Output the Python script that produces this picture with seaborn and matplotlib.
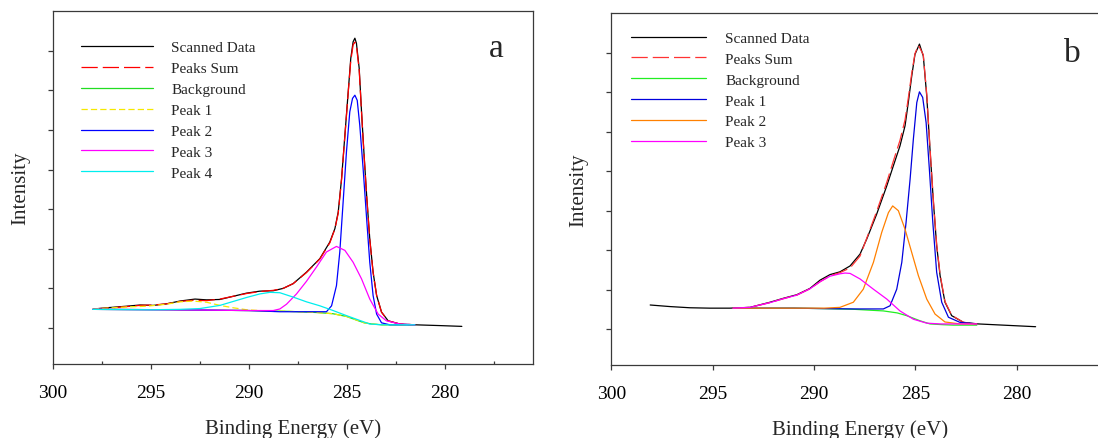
import matplotlib
matplotlib.use("Agg")
import matplotlib.pyplot as plt
from matplotlib.ticker import MultipleLocator, NullFormatter
import seaborn as sns
import pandas as pd

# ---------------- Panel a data (binding energy eV, intensity a.u.) ----------------
scan_a_x = [297.9, 297.25, 296.23, 295.55, 294.87, 294.19, 293.51, 292.74, 292.15, 291.47,
            290.79, 290.11, 289.43, 288.75, 288.24, 287.73, 287.05, 286.37, 285.86, 285.60,
            285.43, 285.26, 285.09, 284.92, 284.79, 284.67, 284.58, 284.50, 284.36, 284.24,
            284.12, 283.98, 283.82, 283.65, 283.47, 283.22, 282.88, 282.29, 281.52, 280.24, 279.12]
scan_a_y = [0.48, 0.51, 0.55, 0.58, 0.57, 0.61, 0.68, 0.73, 0.71, 0.72,
            0.80, 0.88, 0.93, 0.94, 1.00, 1.12, 1.41, 1.75, 2.17, 2.51,
            2.93, 3.77, 4.87, 5.97, 6.81, 7.23, 7.32, 7.19, 6.56, 5.46,
            4.45, 3.35, 2.25, 1.41, 0.82, 0.40, 0.18, 0.10, 0.08, 0.06, 0.04]

sum_a_x = [297.96, 297.25, 296.23, 295.55, 294.87, 294.19, 293.51, 292.83, 292.15, 291.47,
           290.79, 290.11, 289.43, 288.75, 288.24, 287.73, 287.05, 286.37, 285.86, 285.60,
           285.43, 285.26, 285.09, 284.92, 284.79, 284.67, 284.58, 284.50, 284.36, 284.24,
           284.12, 283.98, 283.82, 283.65, 283.47, 283.22, 282.88, 282.29, 281.52]
sum_a_y = [0.48, 0.50, 0.54, 0.57, 0.58, 0.61, 0.67, 0.70, 0.69, 0.73,
           0.80, 0.87, 0.92, 0.95, 1.00, 1.12, 1.40, 1.74, 2.15, 2.50,
           2.90, 3.75, 4.85, 5.95, 6.75, 7.15, 7.22, 7.12, 6.52, 5.45,
           4.43, 3.33, 2.24, 1.40, 0.82, 0.40, 0.18, 0.10, 0.08]

bg_a_x = [297.96, 294.0, 290.0, 288.0, 286.5, 285.7, 285.0, 284.5, 284.1, 283.7, 283.2, 281.52]
bg_a_y = [0.47, 0.46, 0.44, 0.42, 0.39, 0.36, 0.29, 0.20, 0.13, 0.10, 0.08, 0.08]

p1_a_x = [297.96, 297.6, 296.23, 295.21, 294.19, 293.51, 292.83, 292.15, 291.47, 290.79,
          290.11, 289.09, 288.0, 286.5, 285.7, 285.0, 284.5, 284.1, 283.7, 283.2, 281.52]
p1_a_y = [0.48, 0.49, 0.53, 0.55, 0.60, 0.66, 0.68, 0.65, 0.57, 0.51,
          0.46, 0.43, 0.42, 0.39, 0.36, 0.29, 0.20, 0.13, 0.10, 0.08, 0.08]

p2_a_x = [297.96, 294.0, 290.0, 288.41, 286.03, 285.77, 285.52, 285.35, 285.18, 285.01,
          284.84, 284.70, 284.58, 284.46, 284.33, 284.16, 283.98, 283.82, 283.65, 283.47,
          283.22, 282.80, 281.52]
p2_a_y = [0.47, 0.46, 0.44, 0.41, 0.41, 0.56, 1.07, 1.92, 3.18, 4.45,
          5.46, 5.80, 5.88, 5.75, 5.12, 4.03, 2.76, 1.66, 0.82, 0.35,
          0.13, 0.08, 0.08]

p3_a_x = [297.96, 294.0, 290.0, 288.75, 288.41, 288.07, 287.56, 287.05, 286.54, 286.03,
          285.52, 285.09, 284.67, 284.24, 283.82, 283.39, 282.97, 282.29, 281.52]
p3_a_y = [0.47, 0.46, 0.44, 0.44, 0.48, 0.60, 0.86, 1.18, 1.54, 1.92,
          2.06, 1.96, 1.66, 1.24, 0.73, 0.35, 0.18, 0.10, 0.08]

p4_a_x = [297.96, 295.0, 293.5, 292.49, 291.47, 290.79, 290.11, 289.43, 288.92, 288.41,
          287.73, 287.05, 286.37, 285.69, 285.0, 284.33, 283.82, 283.2, 281.52]
p4_a_y = [0.47, 0.46, 0.47, 0.49, 0.57, 0.67, 0.77, 0.86, 0.90, 0.89,
          0.78, 0.66, 0.56, 0.44, 0.31, 0.19, 0.10, 0.08, 0.08]

# ---------------- Panel b data ----------------
scan_b_x = [298.08, 297.10, 296.12, 295.14, 294.15, 293.16, 292.17, 291.51, 290.85, 290.20,
            289.70, 289.21, 288.72, 288.22, 287.73, 287.40, 286.91, 286.41, 286.09, 285.76,
            285.51, 285.35, 285.18, 285.02, 284.80, 284.61, 284.44, 284.28, 284.11, 283.95,
            283.78, 283.54, 283.21, 282.63, 281.89, 279.07]
scan_b_y = [0.61, 0.57, 0.54, 0.53, 0.53, 0.55, 0.68, 0.78, 0.87, 1.03,
            1.24, 1.38, 1.45, 1.60, 1.90, 2.28, 2.91, 3.63, 4.13, 4.64,
            5.15, 5.74, 6.41, 6.96, 7.22, 6.92, 5.91, 4.56, 3.21, 2.11,
            1.35, 0.68, 0.34, 0.17, 0.13, 0.06]

sum_b_x = [294.0, 293.16, 292.17, 291.51, 290.85, 290.20, 289.70, 289.21, 288.72, 288.22,
           287.73, 287.40, 286.91, 286.41, 286.09, 285.76, 285.51, 285.35, 285.18, 285.02,
           284.85, 284.61, 284.44, 284.28, 284.11, 283.95, 283.78, 283.54, 283.21, 282.63, 281.97]
sum_b_y = [0.53, 0.55, 0.67, 0.77, 0.86, 1.02, 1.20, 1.35, 1.43, 1.55,
           1.85, 2.30, 2.98, 3.72, 4.25, 4.78, 5.30, 5.85, 6.48, 6.98,
           7.19, 6.95, 5.95, 4.60, 3.25, 2.15, 1.38, 0.70, 0.35, 0.17, 0.13]

bg_b_x = [294.0, 291.0, 289.70, 288.0, 286.58, 285.9, 285.43, 284.77, 284.28, 283.6, 283.13, 281.97]
bg_b_y = [0.53, 0.53, 0.52, 0.50, 0.46, 0.41, 0.34, 0.21, 0.13, 0.11, 0.10, 0.10]

p1_b_x = [294.0, 291.0, 289.70, 288.0, 286.58, 286.25, 285.92, 285.67, 285.46, 285.26,
          285.10, 284.93, 284.80, 284.64, 284.47, 284.31, 284.14, 283.95, 283.70, 283.37,
          282.80, 281.97]
p1_b_y = [0.53, 0.53, 0.52, 0.51, 0.51, 0.59, 1.01, 1.69, 2.70, 3.80,
          4.81, 5.74, 6.01, 5.87, 5.23, 4.05, 2.70, 1.44, 0.68, 0.30,
          0.17, 0.13]

p2_b_x = [294.0, 291.0, 289.5, 288.72, 288.06, 287.57, 287.07, 286.66, 286.33, 286.12,
          285.84, 285.51, 285.18, 284.85, 284.44, 284.03, 283.54, 282.80, 281.97]
p2_b_y = [0.53, 0.53, 0.53, 0.55, 0.68, 1.01, 1.69, 2.45, 2.95, 3.12,
          3.00, 2.53, 1.94, 1.35, 0.76, 0.38, 0.18, 0.13, 0.13]

p3_b_x = [294.0, 293.16, 292.17, 291.51, 290.85, 290.20, 289.70, 289.21, 288.72, 288.47,
          288.22, 287.73, 287.07, 286.41, 285.76, 285.10, 284.44, 283.78, 281.97]
p3_b_y = [0.53, 0.55, 0.67, 0.77, 0.86, 1.02, 1.20, 1.34, 1.40, 1.42,
          1.41, 1.27, 1.01, 0.76, 0.46, 0.25, 0.15, 0.13, 0.13]

x_ticks = [300, 295, 290, 285, 280]
y_ticks = [0, 1, 2, 3, 4, 5, 6, 7]

# ---------------- style ----------------
sns.set_theme(style="white")
plt.rcParams["font.family"] = ["Liberation Serif", "DejaVu Serif"]
plt.rcParams["axes.edgecolor"] = "#3a3a3a"
plt.rcParams["axes.linewidth"] = 0.9

fig = plt.figure(figsize=(10.98, 4.39), dpi=100)
ax_a = fig.add_axes([0.0481, 0.1686, 0.4371, 0.8034])
ax_b = fig.add_axes([0.5567, 0.1663, 0.4524, 0.8011])

LW = 0.9
SUM_DASH = (0, (13, 4))
P1_DASH = (0, (5, 2.5))


def draw(ax, x, y, color, label, ls="-"):
    df = pd.DataFrame({"x": x, "y": y})
    sns.lineplot(data=df, x="x", y="y", ax=ax, color=color, lw=LW, label=label,
                 sort=False, estimator=None, linestyle=ls)


draw(ax_a, scan_a_x, scan_a_y, "black", "Scanned Data")
draw(ax_a, sum_a_x, sum_a_y, "#ff0000", "Peaks Sum", SUM_DASH)
draw(ax_a, bg_a_x, bg_a_y, "#22dd22", "Background")
draw(ax_a, p1_a_x, p1_a_y, "#f5e800", "Peak 1", P1_DASH)
draw(ax_a, p2_a_x, p2_a_y, "#0000ff", "Peak 2")
draw(ax_a, p3_a_x, p3_a_y, "#ff00ff", "Peak 3")
draw(ax_a, p4_a_x, p4_a_y, "#00eeee", "Peak 4")

draw(ax_b, scan_b_x, scan_b_y, "black", "Scanned Data")
draw(ax_b, sum_b_x, sum_b_y, "#ff3333", "Peaks Sum", SUM_DASH)
draw(ax_b, bg_b_x, bg_b_y, "#22ee22", "Background")
draw(ax_b, p1_b_x, p1_b_y, "#0000dd", "Peak 1")
draw(ax_b, p2_b_x, p2_b_y, "#ff8000", "Peak 2")
draw(ax_b, p3_b_x, p3_b_y, "#ff00ff", "Peak 3")

for ax in (ax_a, ax_b):
    ax.set_xlim(300, 275.5)
    ax.set_ylim(-0.91, 8.0)
    ax.set_xticks(x_ticks)
    ax.set_xticklabels([str(t) for t in x_ticks])
    ax.set_yticks(y_ticks)
    ax.yaxis.set_major_formatter(NullFormatter())
    ax.tick_params(axis="x", which="major", direction="out", length=3.6, width=0.9,
                   labelsize=14, pad=11, colors="#3a3a3a", labelcolor="black")
    ax.tick_params(axis="y", which="major", direction="out", length=3.6, width=0.9,
                   left=True, colors="#3a3a3a")
    ax.tick_params(bottom=True, left=True)
    ax.set_xlabel("Binding Energy (eV)", fontsize=15, labelpad=12)
    ax.set_ylabel("Intensity", fontsize=15, labelpad=9.5)
    ax.grid(False)

ax_a.xaxis.set_minor_locator(MultipleLocator(2.5))
ax_a.tick_params(axis="x", which="minor", direction="in", length=2, width=0.9,
                 bottom=True, colors="#3a3a3a")

leg_a = ax_a.legend(loc="upper left", bbox_to_anchor=(0.0577, 0.9165), frameon=False,
                    fontsize=11, handlelength=4.76, handletextpad=1.19,
                    labelspacing=0.47, borderpad=0, borderaxespad=0)
leg_b = ax_b.legend(loc="upper left", bbox_to_anchor=(0.0403, 0.949), frameon=False,
                    fontsize=11, handlelength=4.9, handletextpad=1.26,
                    labelspacing=0.47, borderpad=0, borderaxespad=0)

ax_a.text(0.923, 0.874, "a", transform=ax_a.transAxes, fontsize=24,
          ha="center", va="baseline")
ax_b.text(0.9275, 0.865, "b", transform=ax_b.transAxes, fontsize=24,
          ha="center", va="baseline")

fig.savefig("out.png", dpi=100)
